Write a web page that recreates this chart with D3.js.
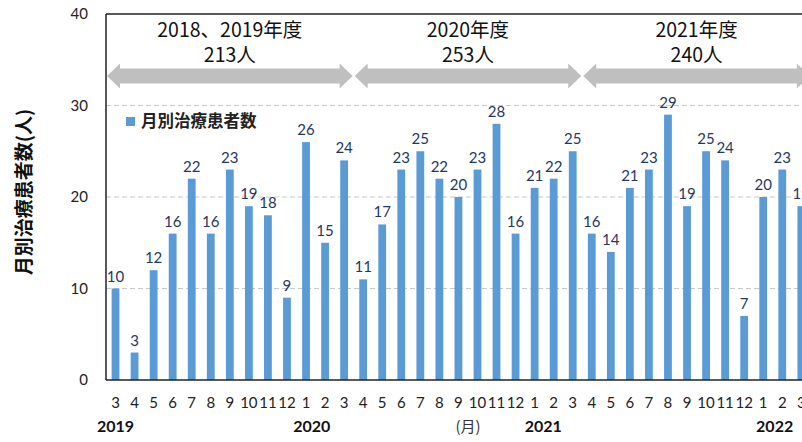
<html lang="ja">
<head>
<meta charset="utf-8">
<script src="https://d3js.org/d3.v7.min.js"></script>
<style>
  body { margin: 0; background: #fff; overflow: hidden; }
  text { font-family: 'Lato', 'Noto Sans CJK JP', sans-serif; }
  .jp { font-family: 'Noto Sans CJK JP', sans-serif; }
</style>
</head>
<body>
<script>
// month labels (2019-3 .. 2022-3)
var months = ["3","4","5","6","7","8","9","10","11","12","1","2","3",
              "4","5","6","7","8","9","10","11","12","1","2","3",
              "4","5","6","7","8","9","10","11","12","1","2","3"];
// monthly patients
var patients = [10,3,12,16,22,16,23,19,18,9,26,15,24,
                11,17,23,25,22,20,23,28,16,21,22,25,
                16,14,21,23,29,19,25,24,7,20,23,19];
// fiscal year groups: first and last bar index, label, total
var groups = [
  {from: 0, to: 12, label: "2018、2019年度", total: "213人"},
  {from: 13, to: 24, label: "2020年度", total: "253人"},
  {from: 25, to: 36, label: "2021年度", total: "240人"}
];
// year labels, position in bar index units
var years = [
  {pos: 0, label: "2019"},
  {pos: 10.3, label: "2020"},
  {pos: 22.45, label: "2021"},
  {pos: 34.6, label: "2022"}
];
var yTicks = [0, 10, 20, 30, 40];

var width = 802, height = 442;
var plotLeft = 106, plotTop = 14, plotBottom = 380;
var step = 19.05;

var svg = d3.select("body").append("svg")
    .attr("width", width).attr("height", height);

var x = d3.scaleBand()
    .domain(d3.range(months.length))
    .range([plotLeft, plotLeft + step * months.length]);
// center-of-band helper by (possibly fractional) index
function cx(i) { return plotLeft + step * (i + 0.5); }

var y = d3.scaleLinear().domain([0, 40]).range([plotBottom, plotTop]);

// grid lines
svg.append("g").selectAll("line")
    .data(yTicks.filter(function(d) { return d > 0 && d < 40; }))
    .enter().append("line")
    .attr("x1", plotLeft).attr("x2", width)
    .attr("y1", function(d) { return y(d); })
    .attr("y2", function(d) { return y(d); })
    .attr("stroke", "#c8c8c8").attr("stroke-width", 1.2)
    .attr("stroke-dasharray", "5,3");

// top border
svg.append("line")
    .attr("x1", plotLeft).attr("x2", width)
    .attr("y1", y(40)).attr("y2", y(40))
    .attr("stroke", "#222").attr("stroke-width", 1.5);

// bars
var bw = 7.8;
svg.append("g").selectAll("rect")
    .data(patients).enter().append("rect")
    .attr("x", function(d, i) { return x(i) + (x.bandwidth() - bw) / 2; })
    .attr("y", function(d) { return y(d); })
    .attr("width", bw)
    .attr("height", function(d) { return plotBottom - y(d); })
    .attr("fill", "#5b9bd5");

// value labels
svg.append("g").selectAll("text")
    .data(patients).enter().append("text")
    .attr("x", function(d, i) { return cx(i); })
    .attr("y", function(d) { return y(d) - 7; })
    .attr("text-anchor", "middle")
    .attr("font-size", "15px")
    .attr("fill", "#1f3864")
    .text(function(d) { return d; });

// axes lines
svg.append("line")
    .attr("x1", plotLeft).attr("x2", plotLeft)
    .attr("y1", plotTop).attr("y2", plotBottom)
    .attr("stroke", "#222").attr("stroke-width", 1.5);
svg.append("line")
    .attr("x1", plotLeft).attr("x2", width)
    .attr("y1", plotBottom).attr("y2", plotBottom)
    .attr("stroke", "#222").attr("stroke-width", 1.5);

// y tick labels
svg.append("g").selectAll("text")
    .data(yTicks).enter().append("text")
    .attr("x", 88)
    .attr("y", function(d) { return y(d) + 5; })
    .attr("text-anchor", "end")
    .attr("font-size", "15px")
    .attr("fill", "#222")
    .text(function(d) { return d; });

// month labels
svg.append("g").selectAll("text")
    .data(months).enter().append("text")
    .attr("x", function(d, i) { return cx(i); })
    .attr("y", 408)
    .attr("text-anchor", "middle")
    .attr("font-size", "15px")
    .attr("fill", "#222")
    .text(function(d) { return d; });

// year labels
svg.append("g").selectAll("text")
    .data(years).enter().append("text")
    .attr("x", function(d) { return cx(d.pos); })
    .attr("y", 432)
    .attr("text-anchor", "middle")
    .attr("font-size", "16px")
    .attr("font-weight", "bold")
    .attr("fill", "#111")
    .text(function(d) { return d.label; });

svg.append("text").attr("class", "jp")
    .attr("x", cx(18.5)).attr("y", 432)
    .attr("text-anchor", "middle")
    .attr("font-size", "15px").attr("fill", "#333")
    .text("(月)");

// y axis title
svg.append("text").attr("class", "jp")
    .attr("transform", "translate(31,192) rotate(-90)")
    .attr("text-anchor", "middle")
    .attr("font-size", "19px").attr("font-weight", "bold")
    .attr("fill", "#111")
    .text("月別治療患者数(人)");

// legend
svg.append("rect")
    .attr("x", 126).attr("y", 117).attr("width", 9).attr("height", 9)
    .attr("fill", "#5b9bd5");
svg.append("text").attr("class", "jp")
    .attr("x", 141).attr("y", 127)
    .attr("font-size", "16.5px").attr("font-weight", "bold")
    .attr("fill", "#222")
    .text("月別治療患者数");

// double arrows for fiscal years
var ay = 76, shaft = 7.5, head = 12.5, hl = 13;
function arrowPath(x1, x2) {
  return "M" + x1 + "," + ay +
    "L" + (x1 + hl) + "," + (ay - head) +
    "L" + (x1 + hl) + "," + (ay - shaft) +
    "L" + (x2 - hl) + "," + (ay - shaft) +
    "L" + (x2 - hl) + "," + (ay - head) +
    "L" + x2 + "," + ay +
    "L" + (x2 - hl) + "," + (ay + head) +
    "L" + (x2 - hl) + "," + (ay + shaft) +
    "L" + (x1 + hl) + "," + (ay + shaft) +
    "L" + (x1 + hl) + "," + (ay + head) + "Z";
}
var ag = svg.append("g").selectAll("g")
    .data(groups).enter().append("g");
ag.append("path")
    .attr("d", function(d) {
      return arrowPath(x(d.from) + 1, x(d.to) + x.bandwidth() - 1);
    })
    .attr("fill", "#bfbfbf");
ag.append("text").attr("class", "jp")
    .attr("x", function(d) { return (cx(d.from) + cx(d.to)) / 2; })
    .attr("y", 37)
    .attr("text-anchor", "middle")
    .attr("font-size", "19.5px").attr("fill", "#111")
    .text(function(d) { return d.label; });
ag.append("text").attr("class", "jp")
    .attr("x", function(d) { return (cx(d.from) + cx(d.to)) / 2; })
    .attr("y", 62)
    .attr("text-anchor", "middle")
    .attr("font-size", "19.5px").attr("fill", "#111")
    .text(function(d) { return d.total; });
</script>
</body>
</html>
